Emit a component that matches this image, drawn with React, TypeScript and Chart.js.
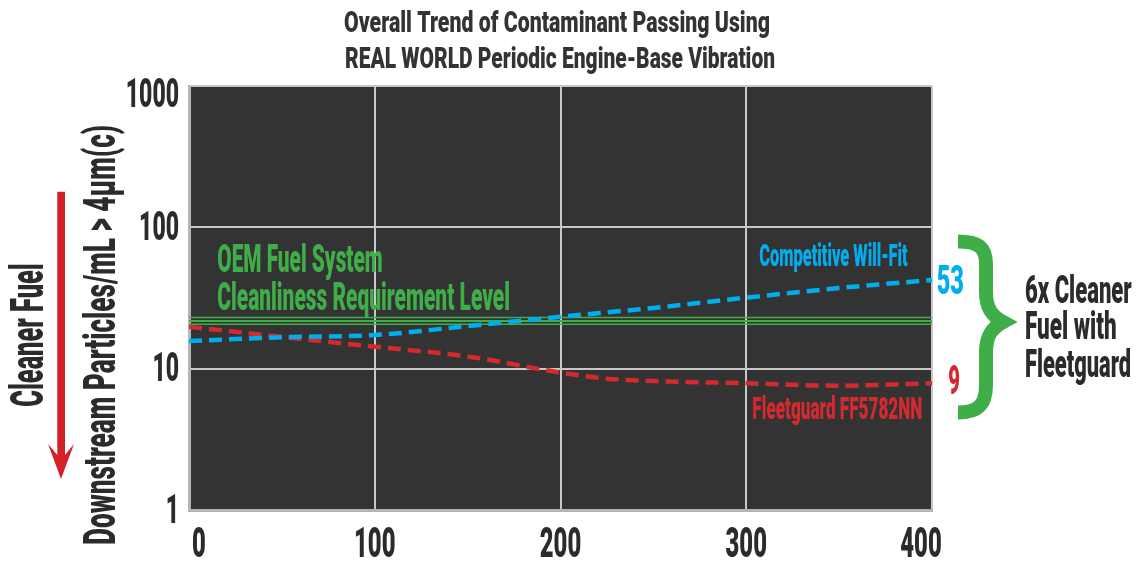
import React, { useEffect, useRef } from 'react';
import { Chart, registerables } from 'chart.js';
Chart.register(...registerables);

// ---- data ----
const xTicks = [0, 100, 200, 300, 400];
const yTicks = [1, 10, 100, 1000];
const blueX = [0, 50, 100, 150, 200, 250, 300, 350, 400];
const blueY = [15.7, 16.7, 17.3, 20.0, 23.3, 26.9, 31.8, 37.2, 42.4];
const redX = [0, 50, 100, 150, 200, 225, 250, 300, 350, 400];
const redY = [19.8, 16.8, 14.3, 12.2, 9.37, 8.5, 8.18, 7.88, 7.58, 7.88];
const reqLevels = [23.0, 21.7, 20.6];

const titleLines = ['Overall Trend of Contaminant Passing Using', 'REAL WORLD Periodic Engine-Base Vibration'];
const yTitle = 'Downstream Particles/mL > 4\u00B5m(c)';
const sideLabel = 'Cleaner Fuel';
const reqLabel = ['OEM Fuel System', 'Cleanliness Requirement Level'];
const blueLabel = 'Competitive Will-Fit';
const redLabel = 'Fleetguard FF5782NN';
const blueEnd = '53';
const redEnd = '9';
const summary = ['6x Cleaner', 'Fuel with', 'Fleetguard'];

const BLUE = '#00aeef';
const RED = '#d42a2f';
const GREEN = '#3fae49';
const DARK = '#2b2b2b';

const FONT = 'Roboto, "Liberation Sans", "DejaVu Sans", sans-serif';
const CAP = 0.711;

type TOpts = { w?: number; digitW?: number; align?: CanvasTextAlign; rot?: boolean };
function txt(ctx: CanvasRenderingContext2D, s: string, x: number, y: number, cap: number, color: string, o: TOpts = {}) {
  const size = cap / CAP;
  ctx.save();
  ctx.font = `900 ${size}px ${FONT}`;
  let sx = 1;
  if (o.w) sx = o.w / ctx.measureText(s).width;
  else if (o.digitW) sx = o.digitW / ctx.measureText('0').width;
  ctx.translate(x, y);
  if (o.rot) ctx.rotate(-Math.PI / 2);
  ctx.scale(sx, 1);
  ctx.textAlign = o.align ?? 'left';
  ctx.textBaseline = 'alphabetic';
  ctx.fillStyle = color;
  ctx.fillText(s, 0, 0);
  ctx.restore();
}

const decorPlugin = {
  id: 'decor',
  beforeDraw(chart: any) {
    const { ctx, chartArea: a } = chart;
    ctx.save();
    ctx.fillStyle = '#333333';
    ctx.fillRect(a.left, a.top, a.right - a.left, a.bottom - a.top);
    ctx.restore();
  },
  afterDraw(chart: any) {
    const { ctx, chartArea: a } = chart;
    const xs = chart.scales.x;
    const ys = chart.scales.y;

    // title
    txt(ctx, titleLines[0], 557, 31.5, 21.5, '#333333', { w: 426, align: 'center' });
    txt(ctx, titleLines[1], 560, 68, 21.5, '#333333', { w: 430, align: 'center' });

    // y tick labels
    yTicks.forEach((v) => {
      const p = ys.getPixelForValue(v);
      const cy = Math.max(p - 2, a.top + 6.5);
      txt(ctx, String(v), a.left - 10, cy + 14.5, 29.5, DARK, { digitW: 13.3, align: 'right' });
    });
    // x tick labels
    xTicks.forEach((v, i) => {
      let p = xs.getPixelForValue(v);
      if (i === 0) p += 10;
      if (i === xTicks.length - 1) p -= 11;
      txt(ctx, String(v), p, 556.7, 30, DARK, { digitW: 13.8, align: 'center' });
    });

    // y title & side label
    txt(ctx, yTitle, 115, 335, 32, DARK, { w: 420, align: 'center', rot: true });
    txt(ctx, sideLabel, 43.3, 335, 33, DARK, { w: 143.4, align: 'center', rot: true });

    // red arrow
    ctx.save();
    ctx.fillStyle = '#d42027';
    ctx.beginPath();
    ctx.moveTo(61, 479);
    ctx.lineTo(48, 444);
    ctx.lineTo(57.3, 455);
    ctx.lineTo(57.3, 191.7);
    ctx.lineTo(65, 191.7);
    ctx.lineTo(65, 455);
    ctx.lineTo(74, 444);
    ctx.closePath();
    ctx.fill();
    ctx.restore();

    // annotations in plot
    txt(ctx, reqLabel[0], 217.3, 272.3, 28, GREEN, { w: 165.4 });
    txt(ctx, reqLabel[1], 217.3, 310, 27.6, GREEN, { w: 292.7 });
    txt(ctx, blueLabel, 759.3, 265.7, 21.7, BLUE, { w: 148.4 });
    txt(ctx, redLabel, 752.3, 419.3, 21.7, RED, { w: 170 });

    // end values
    const pb = ys.getPixelForValue(blueY[blueY.length - 1]);
    const pr = ys.getPixelForValue(redY[redY.length - 1]);
    txt(ctx, blueEnd, a.right + 4.7, pb + 14.5, 29, BLUE, { w: 27.3 });
    txt(ctx, redEnd, a.right + 16.3, pr - 3.5 + 14.5, 29, RED, { w: 11.7 });

    // brace
    ctx.save();
    ctx.strokeStyle = GREEN;
    ctx.lineWidth = 14;
    ctx.lineJoin = 'miter';
    ctx.lineCap = 'butt';
    ctx.beginPath();
    ctx.moveTo(958, 241.5);
    ctx.bezierCurveTo(978, 241.5, 986, 247, 986, 264);
    ctx.lineTo(986, 292);
    ctx.bezierCurveTo(986, 308, 992, 316, 1003, 322);
    ctx.bezierCurveTo(992, 328, 986, 336, 986, 352);
    ctx.lineTo(986, 385);
    ctx.bezierCurveTo(986, 405, 978, 412.5, 958, 412.5);
    ctx.stroke();
    ctx.restore();

    // summary text
    txt(ctx, summary[0], 1025, 302.7, 27.7, DARK, { w: 106.7 });
    txt(ctx, summary[1], 1025, 339.3, 27.7, DARK, { w: 91.7 });
    txt(ctx, summary[2], 1025, 376.7, 27.7, DARK, { w: 106 });
  },
};

export default function App() {
  const ref = useRef<HTMLCanvasElement>(null);
  useEffect(() => {
    if (!ref.current) return;
    const gridColor = '#c8c8c8';
    const datasets: any[] = [
      {
        label: 'Competitive Will-Fit',
        data: blueX.map((x, i) => ({ x, y: blueY[i] })),
        borderColor: BLUE,
        borderWidth: 4.5,
        borderDash: [13, 7],
        pointRadius: 0,
        cubicInterpolationMode: 'monotone',
        fill: false,
      },
      {
        label: 'Fleetguard FF5782NN',
        data: redX.map((x, i) => ({ x, y: redY[i] })),
        borderColor: RED,
        borderWidth: 4.5,
        borderDash: [13, 7],
        pointRadius: 0,
        cubicInterpolationMode: 'monotone',
        fill: false,
      },
      ...reqLevels.map((v, i) => ({
        label: 'Requirement ' + i,
        data: [
          { x: xTicks[0], y: v },
          { x: xTicks[xTicks.length - 1], y: v },
        ],
        borderColor: GREEN,
        borderWidth: i === 1 ? 2 : 1.5,
        pointRadius: 0,
        fill: false,
      })),
    ];
    const chart = new Chart(ref.current, {
      type: 'line',
      data: { datasets },
      options: {
        animation: false,
        responsive: false,
        layout: { padding: { top: 86, right: 206, left: 0, bottom: 0 } },
        plugins: { legend: { display: false }, tooltip: { enabled: false }, title: { display: false } },
        scales: {
          x: {
            type: 'linear',
            min: 0,
            max: 400,
            ticks: { display: false, stepSize: 100 },
            afterBuildTicks: (s: any) => {
              s.ticks = xTicks.map((v) => ({ value: v }));
            },
            afterFit: (s: any) => {
              s.height = 51;
            },
            grid: { color: gridColor, lineWidth: 2, drawTicks: false },
            border: { display: true, color: '#b4b4b4', width: 3 },
          },
          y: {
            type: 'logarithmic',
            min: 1,
            max: 1000,
            ticks: { display: false },
            afterBuildTicks: (s: any) => {
              s.ticks = yTicks.map((v) => ({ value: v, major: true }));
            },
            afterFit: (s: any) => {
              s.width = 189;
            },
            grid: { color: gridColor, lineWidth: 2, drawTicks: false },
            border: { display: true, color: '#b4b4b4', width: 3 },
          },
        },
      },
      plugins: [decorPlugin],
    } as any);
    return () => chart.destroy();
  }, []);
  return (
    <div style={{ position: 'absolute', left: 0, top: 0, width: 1138, height: 561, background: '#ffffff' }}>
      <canvas ref={ref} width={1138} height={561} style={{ display: 'block', width: 1138, height: 561 }} />
    </div>
  );
}
